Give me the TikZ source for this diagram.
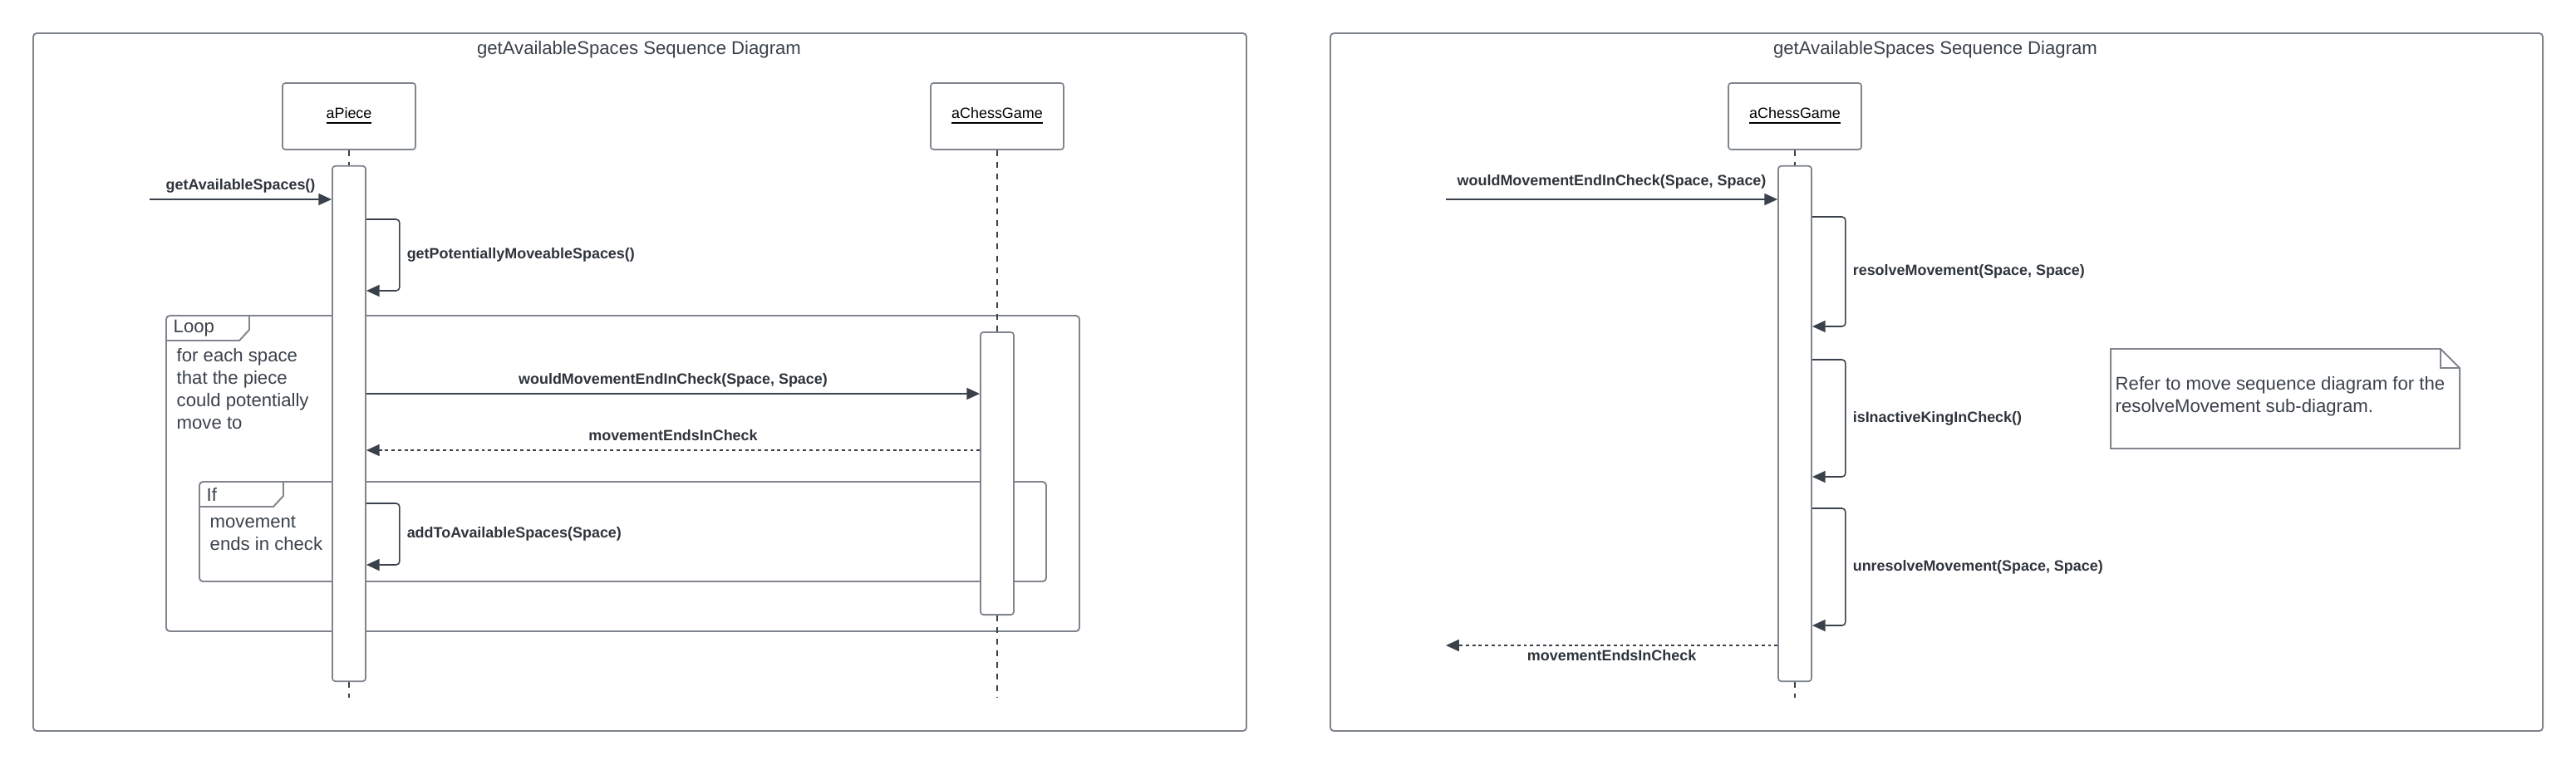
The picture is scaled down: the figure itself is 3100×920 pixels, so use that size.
\documentclass[tikz,border=0pt]{standalone}
\usepackage{fontspec}
\setmainfont{Liberation Sans}
\usetikzlibrary{arrows.meta}
\definecolor{ink}{RGB}{58,65,74}
\definecolor{edge}{RGB}{128,133,141}

\begin{document}
\begin{tikzpicture}[x=0.01cm,y=-0.01cm,
  big/.style={font=\fontsize{6.3}{7.6}\selectfont, text=ink, inner sep=0pt},
  lbl/.style={font=\fontsize{5.1}{6}\selectfont\bfseries, text=ink!80!black, inner sep=1pt},
  head/.style={draw=edge, line width=.5pt, rounded corners=1pt, minimum width=1.6cm, minimum height=.8cm, font=\fontsize{5.1}{6}\selectfont, text=black},
  act/.style={draw=edge, line width=.5pt, rounded corners=1pt, fill=white, minimum width=.4cm},
  life/.style={draw=ink, line width=.35pt, dash pattern=on 2pt off 2pt},
  msg/.style={draw=ink, line width=.45pt, -{Triangle[length=4.5pt,width=4pt]}},
  ret/.style={msg, dash pattern=on 1.1pt off 1.1pt},
  self/.style={msg, rounded corners=1.2pt},
  box/.style={draw=edge, line width=.55pt, rounded corners=1.2pt}]
\useasboundingbox (0,0) rectangle (3100,920);

% left diagram
\draw[box] (40,40) rectangle (1500,880);
\node[big] (titleA) at (769,60) {getAvailableSpaces Sequence Diagram};
\node[head] (pieceHead) at (420,140) {\underline{aPiece}};
\node[head] (gameHead) at (1200,140) {\underline{aChessGame}};

\draw[box] (200,380) rectangle (1299,760);
\draw[box, rounded corners=0pt] (200,410) -- (288,410) -- (300,397) -- (300,380);
\node[big, anchor=west] (loopTag) at (208,395) {Loop};
\node[big, anchor=west, align=left] (loopCond) at (212,468) {for each space\\that the piece\\could potentially\\move to};

\draw[box] (240,580) rectangle (1259,700);
\draw[box, rounded corners=0pt] (240,610) -- (329,610) -- (341,597) -- (341,580);
\node[big, anchor=west] (ifTag) at (248,595) {If};
\node[big, anchor=west, align=left] (ifCond) at (252,642) {movement\\ends in check};

\node[act, minimum height=6.2cm] (pieceAct) at (420,510) {};
\node[act, minimum height=3.4cm] (gameAct) at (1200,570) {};
\coordinate (pieceEnd) at (420,840);
\coordinate (gameEnd) at (1200,840);
\draw[life] (pieceHead) -- (pieceAct);
\draw[life] (pieceAct) -- (pieceEnd);
\draw[life] (gameHead) -- (gameAct);
\draw[life] (gameAct) -- (gameEnd);

\coordinate (callIn) at (180,240);
\draw[msg] (callIn) -- (pieceAct.west |- callIn) node[lbl, midway, above=1pt] (callInLbl) {getAvailableSpaces()};
\draw[self] (pieceAct.east |- 0,264) -- ++(40,0) -- ++(0,86) node[lbl, midway, right=1.3pt] (movesLbl) {getPotentiallyMoveableSpaces()} -- (pieceAct.east |- 0,350);
\draw[msg] (pieceAct.east |- 0,474) -- (gameAct.west |- 0,474) node[lbl, midway, above=1pt] (checkLbl) {wouldMovementEndInCheck(Space, Space)};
\draw[ret] (gameAct.west |- 0,542) -- (pieceAct.east |- 0,542) node[lbl, midway, above=2pt] (endsLbl) {movementEndsInCheck};
\draw[self] (pieceAct.east |- 0,606) -- ++(40,0) -- ++(0,74) node[lbl, midway, right=1.3pt] (addLbl) {addToAvailableSpaces(Space)} -- (pieceAct.east |- 0,680);

% right diagram
\draw[box] (1601,40) rectangle (3060,880);
\node[big] (titleB) at (2329,60) {getAvailableSpaces Sequence Diagram};
\node[head] (gameHeadB) at (2160,140) {\underline{aChessGame}};
\node[act, minimum height=6.2cm] (gameActB) at (2160,510) {};
\coordinate (gameEndB) at (2160,840);
\draw[life] (gameHeadB) -- (gameActB);
\draw[life] (gameActB) -- (gameEndB);

\coordinate (callInB) at (1740,240);
\coordinate (callOutB) at (1740,777);
\draw[msg] (callInB) -- (gameActB.west |- callInB) node[lbl, midway, above=2.5pt] (checkLblB) {wouldMovementEndInCheck(Space, Space)};
\draw[self] (gameActB.east |- 0,261) -- ++(40,0) -- ++(0,132) node[lbl, midway, right=1.3pt] (resolveLbl) {resolveMovement(Space, Space)} -- (gameActB.east |- 0,393);
\draw[self] (gameActB.east |- 0,433) -- ++(40,0) -- ++(0,141) node[lbl, midway, right=1.3pt] (kingLbl) {isInactiveKingInCheck()} -- (gameActB.east |- 0,574);
\draw[self] (gameActB.east |- 0,612) -- ++(40,0) -- ++(0,141) node[lbl, midway, right=1.3pt] (unresolveLbl) {unresolveMovement(Space, Space)} -- (gameActB.east |- 0,753);
\draw[ret] (gameActB.west |- callOutB) -- (callOutB) node[lbl, midway, below=.3pt] (endsLblB) {movementEndsInCheck};

\draw[box, rounded corners=0pt] (2540,420) -- (2937,420) -- (2960,443) -- (2960,540) -- (2540,540) -- cycle;
\draw[box, rounded corners=0pt] (2937,420) -- (2937,443) -- (2960,443);
\node[big, anchor=west, align=left] (note) at (2545,477) {Refer to move sequence diagram for the\\resolveMovement sub-diagram.};
\end{tikzpicture}
\end{document}
